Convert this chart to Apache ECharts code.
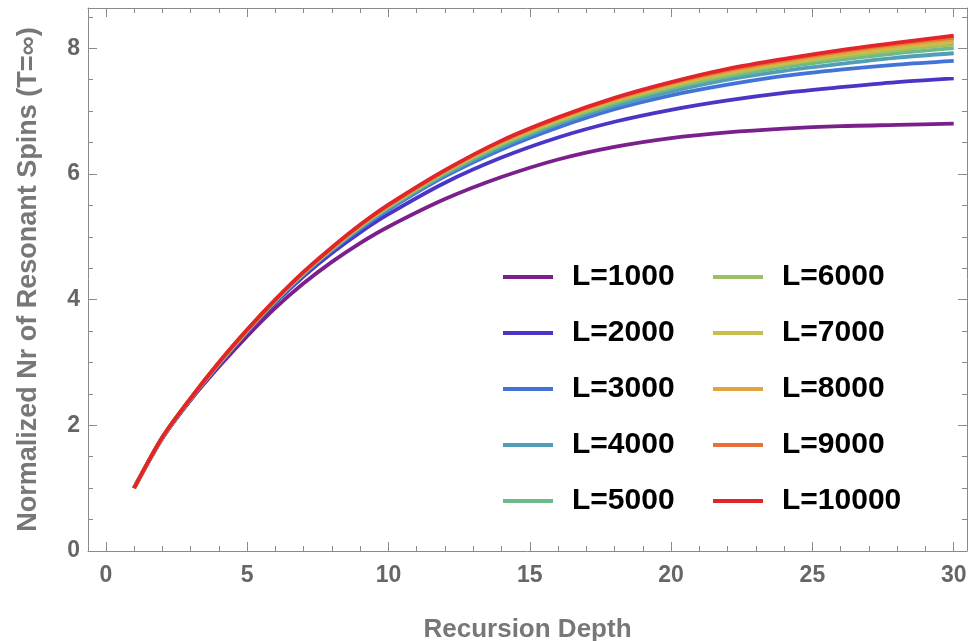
<!DOCTYPE html>
<html lang="en">
<head>
  <meta charset="UTF-8">
  <title>Resonant spins vs recursion depth</title>
  <style>
    * { margin: 0; padding: 0; }
    body { background: #fff; }
    #chart { width: 968px; height: 641px; }
  </style>
</head>
<body>
  <div id="chart"></div>
  <script src="https://cdn.jsdelivr.net/npm/echarts@6/dist/echarts.min.js"></script>
  <script>
    // recursion depth sampled along the curves
    const depth = [1, 2, 3, 4, 5, 6, 7, 8, 9, 10, 12, 14, 16, 18, 20, 22, 24, 26, 28, 30];

    const names = ['L=1000', 'L=2000', 'L=3000', 'L=4000', 'L=5000',
                   'L=6000', 'L=7000', 'L=8000', 'L=9000', 'L=10000'];
    const colors = ['#7b1f8c', '#4a35c6', '#4373d6', '#529db8', '#6cb98a',
                    '#9cc063', '#c7be4b', '#e2a43e', '#e86f35', '#e0262a'];

    const L1000  = [1, 1.79, 2.40, 2.93, 3.42, 3.87, 4.26, 4.60, 4.90, 5.16, 5.60, 5.95, 6.23, 6.43, 6.57, 6.66, 6.72, 6.76, 6.78, 6.80];
    const L2000  = [1, 1.80, 2.41, 2.96, 3.48, 3.95, 4.37, 4.74, 5.07, 5.36, 5.86, 6.26, 6.58, 6.83, 7.02, 7.17, 7.29, 7.38, 7.46, 7.52];
    const L3000  = [1, 1.80, 2.42, 2.97, 3.49, 3.97, 4.40, 4.78, 5.12, 5.43, 5.96, 6.39, 6.74, 7.03, 7.25, 7.42, 7.56, 7.66, 7.74, 7.80];
    const L4000  = [1, 1.80, 2.42, 2.98, 3.50, 3.98, 4.41, 4.80, 5.14, 5.45, 5.99, 6.43, 6.79, 7.08, 7.31, 7.50, 7.64, 7.75, 7.85, 7.92];
    const L5000  = [1, 1.80, 2.42, 2.98, 3.50, 3.98, 4.42, 4.80, 5.16, 5.47, 6.01, 6.46, 6.82, 7.12, 7.36, 7.55, 7.70, 7.82, 7.92, 8.00];
    const L6000  = [1, 1.81, 2.43, 2.99, 3.51, 3.99, 4.43, 4.81, 5.17, 5.48, 6.03, 6.48, 6.84, 7.15, 7.39, 7.58, 7.74, 7.86, 7.97, 8.06];
    const L7000  = [1, 1.81, 2.43, 2.99, 3.51, 3.99, 4.43, 4.82, 5.17, 5.49, 6.04, 6.50, 6.86, 7.17, 7.41, 7.61, 7.76, 7.89, 8.00, 8.10];
    const L8000  = [1, 1.81, 2.43, 3.00, 3.52, 4.00, 4.43, 4.82, 5.18, 5.50, 6.05, 6.51, 6.88, 7.18, 7.43, 7.63, 7.79, 7.92, 8.04, 8.14];
    const L9000  = [1, 1.81, 2.43, 3.00, 3.52, 4.00, 4.44, 4.83, 5.19, 5.50, 6.05, 6.52, 6.89, 7.20, 7.45, 7.65, 7.81, 7.95, 8.07, 8.17];
    const L10000 = [1, 1.81, 2.43, 3.00, 3.52, 4.00, 4.44, 4.83, 5.19, 5.51, 6.06, 6.53, 6.90, 7.21, 7.46, 7.67, 7.83, 7.97, 8.09, 8.20];
    const values = [L1000, L2000, L3000, L4000, L5000, L6000, L7000, L8000, L9000, L10000];

    const xMajor = [0, 5, 10, 15, 20, 25, 30];
    const xMinor = [1, 2, 3, 4, 6, 7, 8, 9, 11, 12, 13, 14, 16, 17, 18, 19, 21, 22, 23, 24, 26, 27, 28, 29];
    const yMajor = [0, 2, 4, 6, 8];
    const yMinor = [0.5, 1, 1.5, 2.5, 3, 3.5, 4.5, 5, 5.5, 6.5, 7, 7.5, 8.5];

    const frameColor = '#8a8a8a';
    const labelColor = '#666';
    const font = 'Liberation Sans, Arial, sans-serif';

    function frameAxis(pos, range, ticks, len, showLine, label, extra) {
      return Object.assign({
        type: 'value',
        position: pos,
        min: range[0],
        max: range[1],
        axisLine: { show: showLine, onZero: false, lineStyle: { color: frameColor, width: 1 } },
        axisTick: { show: true, inside: true, length: len, customValues: ticks,
                    lineStyle: { color: frameColor, width: 1 } },
        axisLabel: label ? {
          show: true, customValues: ticks, color: labelColor, fontFamily: font,
          fontWeight: 'bold', fontSize: 23, margin: label
        } : { show: false },
        splitLine: { show: false }
      }, extra || {});
    }

    const xRange = [-0.63, 30.47];
    const yRange = [0, 8.64];

    const chart = echarts.init(document.getElementById('chart'));
    chart.setOption({
      animation: false,
      backgroundColor: '#fff',
      grid: { left: 88, right: 1, top: 8, bottom: 90, outerBoundsMode: 'none' },
      xAxis: [
        frameAxis('bottom', xRange, xMajor, 9, true, 13, {
          name: 'Recursion Depth', nameLocation: 'middle', nameGap: 66,
          nameTextStyle: { color: '#777', fontFamily: font, fontWeight: 'bold', fontSize: 26 }
        }),
        frameAxis('bottom', xRange, xMinor, 5, false, 0),
        frameAxis('top', xRange, xMajor, 9, true, 0),
        frameAxis('top', xRange, xMinor, 5, false, 0)
      ],
      yAxis: [
        frameAxis('left', yRange, yMajor, 9, true, 8, {
          name: 'Normalized Nr of Resonant Spins (T=∞)', nameLocation: 'middle', nameGap: 46,
          nameTextStyle: { color: '#777', fontFamily: font, fontWeight: 'bold', fontSize: 27 }
        }),
        frameAxis('left', yRange, yMinor, 5, false, 0),
        frameAxis('right', yRange, yMajor, 9, true, 0),
        frameAxis('right', yRange, yMinor, 5, false, 0)
      ],
      legend: [0, 1].map(col => ({
        data: names.slice(col * 5, col * 5 + 5),
        orient: 'vertical',
        left: col === 0 ? 498 : 708,
        top: 257,
        icon: 'rect',
        itemWidth: 50,
        itemHeight: 4,
        itemGap: 26,
        textStyle: { color: '#000', fontFamily: font, fontWeight: 'bold', fontSize: 30,
                     lineHeight: 30, padding: [0, 0, 0, 14] }
      })),
      series: names.map((name, i) => ({
        name: name,
        type: 'line',
        smooth: 0.3,
        showSymbol: false,
        color: colors[i],
        lineStyle: { width: 3.8 },
        data: depth.map((d, j) => [d, values[i][j]])
      }))
    });
  </script>
</body>
</html>
